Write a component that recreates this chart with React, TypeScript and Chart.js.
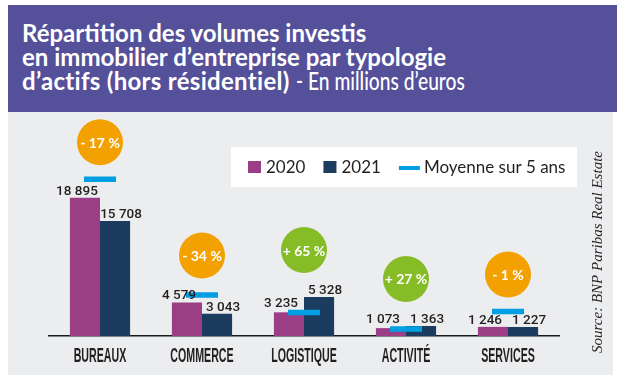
import React, { useEffect, useRef } from 'react';
import { Chart, registerables } from 'chart.js';

Chart.register(...registerables);

const categories = ['BUREAUX', 'COMMERCE', 'LOGISTIQUE', 'ACTIVITÉ', 'SERVICES'];
const values2020 = [18895, 4579, 3235, 1073, 1246];
const values2021 = [15708, 3043, 5328, 1363, 1227];
const average5y = [21400, 5600, 3200, 960, 3350];
const changeValues = [-17, -34, 65, 27, -1];
const changeLabels = ['- 17 %', '- 34 %', '+ 65 %', '+ 27 %', '- 1 %'];
const seriesNames = ['2020', '2021', 'Moyenne sur 5 ans'];
const titleLine1 = 'Répartition des volumes investis';
const titleLine2 = 'en immobilier d’entreprise par typologie';
const titleLine3Bold = 'd’actifs (hors résidentiel)';
const titleLine3Light = '- En millions d’euros';
const sourceText = 'Source: BNP Paribas Real Estate';

const C = {
  y2020: '#9B3E86',
  y2021: '#1B3C5F',
  avg: '#009FE3',
  up: '#86BC25',
  down: '#F2A100',
  text: '#231F20',
  panel: '#55509A',
  bg: '#ECEDEF',
};

const fmt = (v: number) => String(v).replace(/\B(?=(\d{3})+(?!\d))/g, ' ');

const overlay = {
  id: 'overlay',
  afterDatasetsDraw(chart: any) {
    const ctx = chart.ctx as CanvasRenderingContext2D;
    const xs = chart.scales.x;
    const m0 = chart.getDatasetMeta(0);
    const m1 = chart.getDatasetMeta(1);
    const m2 = chart.getDatasetMeta(2);
    ctx.save();
    categories.forEach((cat, i) => {
      const avgY = m2.data[i].y;
      const avgTop = avgY - 3;
      const tops: number[] = [avgTop];
      const pairs: [any, number[], number][] = [
        [m0, values2020, -8],
        [m1, values2021, 6],
      ];
      ctx.font = '500 13.5px Roboto';
      ctx.fillStyle = C.text;
      ctx.textAlign = 'center';
      ctx.textBaseline = 'alphabetic';
      pairs.forEach(([meta, vals, dx]) => {
        const bar = meta.data[i];
        let bottom = bar.y - 3;
        if (Math.abs(avgY - bar.y) <= 6) bottom = avgTop - 3;
        ctx.fillText(fmt(vals[i]), bar.x + dx, bottom);
        tops.push(bottom - 10);
      });
      const cx = xs.getPixelForValue(i);
      const cy = Math.min(...tops) - 11 - 23;
      ctx.beginPath();
      ctx.arc(cx, cy, 23, 0, Math.PI * 2);
      ctx.fillStyle = changeValues[i] < 0 ? C.down : C.up;
      ctx.fill();
      ctx.fillStyle = '#FFFFFF';
      ctx.font = 'bold 14px Lato';
      ctx.textBaseline = 'middle';
      ctx.fillText(changeLabels[i], cx, cy + 1);
    });
    ctx.restore();
  },
  afterDraw(chart: any) {
    const ctx = chart.ctx as CanvasRenderingContext2D;
    const xs = chart.scales.x;
    ctx.save();
    // category labels (condensed)
    ctx.fillStyle = C.text;
    ctx.font = 'bold 20.5px "Liberation Sans"';
    ctx.textAlign = 'center';
    ctx.textBaseline = 'alphabetic';
    categories.forEach((cat, i) => {
      ctx.save();
      ctx.translate(xs.getPixelForValue(i), 250);
      ctx.scale(0.52, 1);
      ctx.fillText(cat, 0, 0);
      ctx.restore();
    });
    // legend
    ctx.fillStyle = '#FFFFFF';
    ctx.fillRect(223, 35, 346, 40);
    ctx.font = '17px Lato';
    ctx.textAlign = 'left';
    let x = 240;
    const colors = [C.y2020, C.y2021, C.avg];
    seriesNames.forEach((name, k) => {
      ctx.fillStyle = colors[k];
      if (k < 2) {
        ctx.fillRect(x, 49, 13, 12);
        x += 18;
      } else {
        ctx.fillRect(x, 54, 21, 4);
        x += 25;
      }
      ctx.fillStyle = C.text;
      ctx.fillText(name, x, 61);
      x += ctx.measureText(name).width + 18;
    });
    // source
    ctx.translate(590, 140);
    ctx.rotate(-Math.PI / 2);
    ctx.textAlign = 'center';
    ctx.textBaseline = 'middle';
    ctx.font = 'italic 15px "Liberation Serif"';
    ctx.fillStyle = C.text;
    ctx.fillText(sourceText, 0, 0);
    ctx.restore();
  },
};

export default function App() {
  const ref = useRef<HTMLCanvasElement>(null);
  useEffect(() => {
    if (!ref.current) return;
    const chart = new Chart(ref.current, {
      type: 'bar',
      data: {
        labels: categories,
        datasets: [
          {
            label: seriesNames[0],
            data: values2020,
            backgroundColor: C.y2020,
            categoryPercentage: 0.59,
            barPercentage: 1,
            order: 2,
          },
          {
            label: seriesNames[1],
            data: values2021,
            backgroundColor: C.y2021,
            categoryPercentage: 0.59,
            barPercentage: 1,
            order: 2,
          },
          {
            type: 'line',
            label: seriesNames[2],
            data: average5y,
            showLine: false,
            pointStyle: 'line',
            pointRadius: 16,
            pointBorderWidth: 5.5,
            borderColor: C.avg,
            backgroundColor: C.avg,
            order: 0,
          } as any,
        ],
      },
      options: {
        responsive: false,
        animation: false,
        layout: { padding: { left: 41, right: 54, top: 41, bottom: 39 } },
        plugins: {
          legend: { display: false },
          tooltip: { enabled: false },
        },
        scales: {
          x: {
            grid: { display: false, drawTicks: false },
            ticks: { display: false },
            border: { display: true, color: '#1A1A1A', width: 1.5 },
          },
          y: { display: false, min: 0, max: 25000 },
        },
      },
      plugins: [overlay],
    });
    return () => chart.destroy();
  }, []);

  return (
    <div style={{ position: 'absolute', left: 0, top: 0, width: 617, height: 378, background: '#FFFFFF' }}>
      <div
        style={{
          position: 'absolute',
          left: 8,
          top: 5,
          width: 609,
          height: 107,
          boxSizing: 'border-box',
          padding: '16px 0 0 14px',
          background: C.panel,
          color: '#FFFFFF',
          fontFamily: 'Lato, sans-serif',
          fontWeight: 700,
          fontSize: 24,
          lineHeight: '24px',
          whiteSpace: 'nowrap',
        }}
      >
        <div>{titleLine1}</div>
        <div>{titleLine2}</div>
        <div>
          <span style={{ letterSpacing: '0.3px' }}>{titleLine3Bold}</span>{' '}
          <span
            style={{
              display: 'inline-block',
              fontWeight: 500,
              transform: 'scaleX(0.8)',
              transformOrigin: 'left center',
            }}
          >
            {titleLine3Light}
          </span>
        </div>
      </div>
      <div style={{ position: 'absolute', left: 8, top: 112, width: 605, height: 263, background: C.bg }}>
        <canvas ref={ref} width={605} height={263} style={{ display: 'block' }} />
      </div>
    </div>
  );
}
